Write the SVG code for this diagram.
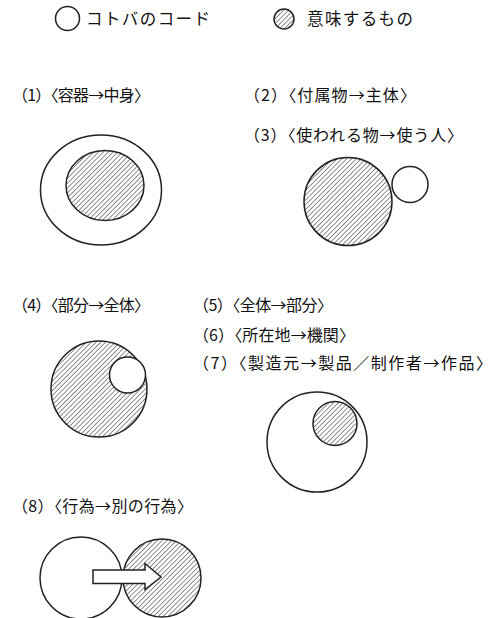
<svg xmlns="http://www.w3.org/2000/svg" width="493" height="618" viewBox="0 0 493 618">
<defs>
<pattern id="hatch" width="3.4" height="3.4" patternUnits="userSpaceOnUse" patternTransform="rotate(45)">
<rect width="3.4" height="3.4" fill="#fff"/>
<line x1="0" y1="0" x2="0" y2="3.4" stroke="#444" stroke-width="1.2"/>
</pattern>
</defs>
<style>
text{font-family:"Noto Sans CJK JP","Noto Sans CJK SC",sans-serif;font-size:16px;fill:#111}
.lg{letter-spacing:2px;font-size:16.5px}
.code{fill:#fff;stroke:#222;stroke-width:1.5}
.mean{fill:url(#hatch);stroke:#222;stroke-width:1.5}
</style>
<rect width="493" height="618" fill="#fff"/>
<g id="legend">
<circle class="code" cx="67.5" cy="18.5" r="12"/>
<text class="lg" x="86" y="25" textLength="126" lengthAdjust="spacing">コトバのコード</text>
<circle class="mean" cx="284" cy="19" r="10"/>
<text class="lg" x="307" y="25" textLength="108" lengthAdjust="spacing">意味するもの</text>
</g>
<g id="n1">
<text x="12" y="101" textLength="138" lengthAdjust="spacing">（1）〈容器→中身〉</text>
<ellipse class="code" cx="101" cy="190" rx="60.5" ry="55"/>
<ellipse class="mean" cx="105" cy="185.5" rx="39" ry="35"/>
</g>
<g id="n2">
<text x="244" y="101" textLength="172" lengthAdjust="spacing">（2）〈付属物→主体〉</text>
</g>
<g id="n3">
<text x="244" y="141" textLength="219" lengthAdjust="spacing">（3）〈使われる物→使う人〉</text>
<circle class="mean" cx="348" cy="201.5" r="44"/>
<circle class="code" cx="410" cy="184.5" r="18"/>
</g>
<g id="n4">
<text x="12" y="311" textLength="138" lengthAdjust="spacing">（4）〈部分→全体〉</text>
<circle class="mean" cx="99" cy="389" r="48"/>
<circle class="code" cx="127.5" cy="375" r="18"/>
</g>
<g id="n5">
<text x="193" y="311" textLength="140" lengthAdjust="spacing">（5）〈全体→部分〉</text>
</g>
<g id="n6">
<text x="193" y="340.5" textLength="162" lengthAdjust="spacing">（6）〈所在地→機関〉</text>
</g>
<g id="n7">
<text x="193" y="368.5" textLength="299" lengthAdjust="spacing">（7）〈製造元→製品／制作者→作品〉</text>
<circle class="code" cx="317" cy="442" r="50"/>
<circle class="mean" cx="335" cy="423.5" r="22"/>
</g>
<g id="n8">
<text x="12" y="512" textLength="181" lengthAdjust="spacing">（8）〈行為→別の行為〉</text>
<circle class="code" cx="81" cy="578" r="41"/>
<circle class="mean" cx="162" cy="578" r="39"/>
</g>
<g id="connectors">
<polygon class="code" points="93,570 145,570 145,563.5 161,577 145,589.5 145,583.5 93,583.5"/>
</g>
</svg>
